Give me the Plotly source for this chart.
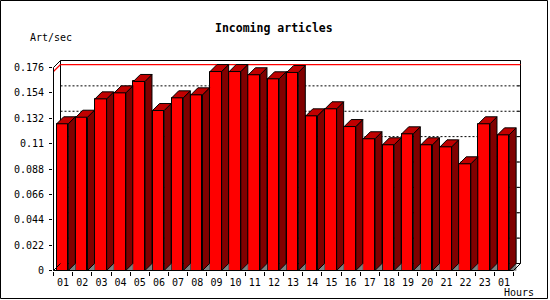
import plotly.graph_objects as go

# ---- data ----
hours = ["01", "02", "03", "04", "05", "06", "07", "08", "09", "10", "11", "12",
         "13", "14", "15", "16", "17", "18", "19", "20", "21", "22", "23", "01"]
values = [0.1272, 0.1329, 0.1488, 0.1540, 0.1639, 0.1387, 0.1497, 0.1523,
          0.1725, 0.1725, 0.1697, 0.1662, 0.1717, 0.1341, 0.1402, 0.1248,
          0.1142, 0.1090, 0.1185, 0.1090, 0.1072, 0.0925, 0.1272, 0.1176]
ytick_vals = [0, 0.022, 0.044, 0.066, 0.088, 0.11, 0.132, 0.154, 0.176]
ytick_text = ["0", "0.022", "0.044", "0.066", "0.088", "0.11", "0.132", "0.154", "0.176"]
title = "Incoming articles"
ylabel = "Art/sec"
xlabel = "Hours"

# ---- geometry / style ----
W, H = 550, 300
ML, MT, MR, MB = 53, 58, 27, 29
PW, PH = W - ML - MR, H - MT - MB
n = len(values)
s = 460.0 / n                 # px per category unit
k = 203.0 / ytick_vals[-1]    # px per value unit
d = 7.0 / s                   # depth (x units)
dv = 7.0 / k                  # depth (value units)
off = 3.2 / s
bw = 11.6 / s
x0 = -0.5 - 0.5 / s
xr = [x0, x0 + PW / s]
y0 = -0.5 / k
yr = [y0, y0 + PH / k]
ymax_axis = ytick_vals[-1]
vmax = max(values)

RED = "#FF0000"
SIDE = "#800000"
TOP = "#C00000"
GRAY = "#808080"
FONT = "DejaVu Sans Mono"

fig = go.Figure()

# front faces
fig.add_trace(go.Bar(
    x=list(range(n)), y=values, width=bw, offset=-0.5 + off, base=0,
    marker=dict(color=RED, line=dict(color="black", width=1)),
    hoverinfo="skip", showlegend=False))

# gray floor triangles, side faces, top faces
tx, ty, sx, sy, ux, uy = [], [], [], [], [], []
for i, v in enumerate(values):
    xl = i - 0.5 + off
    xrr = xl + bw
    tx += [xrr, xrr + d, xrr + d, xrr, None]
    ty += [0, dv, 0, 0, None]
    sx += [xrr, xrr, xrr + d, xrr + d, xrr, None]
    sy += [0, v, v + dv, dv, 0, None]
    ux += [xl, xrr, xrr + d, xl + d, xl, None]
    uy += [v, v, v + dv, v + dv, v, None]

fig.add_trace(go.Scatter(x=tx, y=ty, mode="lines", fill="toself", fillcolor=GRAY,
                         line=dict(color=GRAY, width=0.5), hoverinfo="skip", showlegend=False))
fig.add_trace(go.Scatter(x=sx, y=sy, mode="lines", fill="toself", fillcolor=SIDE,
                         line=dict(color="black", width=1), hoverinfo="skip", showlegend=False))
fig.add_trace(go.Scatter(x=ux, y=uy, mode="lines", fill="toself", fillcolor=TOP,
                         line=dict(color="black", width=1), hoverinfo="skip", showlegend=False))

shapes = []
bx0, bx1 = -0.5 + d, n - 0.5 + d
# back plane
shapes.append(dict(type="rect", xref="x", yref="y", x0=bx0, x1=bx1, y0=dv, y1=ymax_axis + dv,
                   line=dict(color="black", width=1), fillcolor="white", layer="below"))
# dotted gridlines on back plane
for t in ytick_vals[1:-1]:
    shapes.append(dict(type="line", xref="x", yref="y", x0=bx0, x1=bx1, y0=t + dv, y1=t + dv,
                       line=dict(color="black", width=1, dash="2px,2px"), layer="below"))
    # small inward ticks on right back edge
    shapes.append(dict(type="line", xref="x", yref="y", x0=bx1 - 3.0 / s, x1=bx1, y0=t + dv, y1=t + dv,
                       line=dict(color="black", width=1), layer="below"))
# red max line
shapes.append(dict(type="line", xref="x", yref="y", x0=bx0, x1=bx1, y0=vmax + dv, y1=vmax + dv,
                   line=dict(color="red", width=1.2), layer="below"))
shapes.append(dict(type="line", xref="x", yref="y", x0=-0.5, x1=bx0, y0=vmax, y1=vmax + dv,
                   line=dict(color="red", width=1.2), layer="below"))
# front axes
shapes.append(dict(type="line", xref="x", yref="y", x0=-0.5, x1=-0.5, y0=0, y1=ymax_axis,
                   line=dict(color="black", width=1)))
shapes.append(dict(type="line", xref="x", yref="y", x0=-0.5, x1=n - 0.5, y0=0, y1=0,
                   line=dict(color="black", width=1)))
shapes.append(dict(type="line", xref="x", yref="y", x0=-0.5, x1=bx0, y0=ymax_axis, y1=ymax_axis + dv,
                   line=dict(color="black", width=1)))
shapes.append(dict(type="line", xref="x", yref="y", x0=-0.5, x1=bx0, y0=0, y1=dv,
                   line=dict(color="black", width=1)))
shapes.append(dict(type="line", xref="x", yref="y", x0=n - 0.5, x1=bx1, y0=0, y1=dv,
                   line=dict(color="black", width=1)))

# outer border (paper coords from pixels)
def px(xp):
    return (xp - ML) / PW

def py(yp):
    return (H - MB - yp) / PH

shapes.append(dict(type="rect", xref="paper", yref="paper",
                   x0=px(0.5), x1=px(547.5), y0=py(298.5), y1=py(0.5),
                   line=dict(color="black", width=1)))

annotations = [
    dict(text="<b>%s</b>" % title, xref="paper", yref="paper", x=px(274), y=py(27.5),
         xanchor="center", yanchor="middle", showarrow=False,
         font=dict(family=FONT, size=11.5, color="black")),
    dict(text=ylabel, xref="paper", yref="paper", x=px(51), y=py(37.5),
         xanchor="center", yanchor="middle", showarrow=False,
         font=dict(family=FONT, size=10, color="black")),
    dict(text=xlabel, xref="paper", yref="paper", x=px(519), y=py(292),
         xanchor="center", yanchor="middle", showarrow=False,
         font=dict(family=FONT, size=10, color="black")),
]

fig.update_layout(
    width=W, height=H,
    margin=dict(l=ML, r=MR, t=MT, b=MB, pad=0),
    paper_bgcolor="white", plot_bgcolor="white",
    shapes=shapes, annotations=annotations,
    bargap=0, showlegend=False,
    font=dict(family=FONT, size=10, color="black"),
    xaxis=dict(range=xr, showgrid=False, zeroline=False, showline=False,
               tickmode="array", tickvals=list(range(n)), ticktext=hours,
               ticks="", ticklabelstandoff=4,
               tickfont=dict(family=FONT, size=10, color="black"),
               minor=dict(tickmode="array", tickvals=[i - 0.5 for i in range(n + 1)],
                          ticks="outside", ticklen=4, tickcolor="black", tickwidth=1,
                          showgrid=False),
               fixedrange=True),
    yaxis=dict(range=yr, showgrid=False, zeroline=False, showline=False,
               tickmode="array", tickvals=ytick_vals, ticktext=ytick_text,
               ticks="outside", ticklen=3, tickcolor="black", tickwidth=1,
               ticklabelstandoff=3,
               tickfont=dict(family=FONT, size=10, color="black"),
               fixedrange=True),
)

fig.write_html("out.html", config={"displayModeBar": False})
